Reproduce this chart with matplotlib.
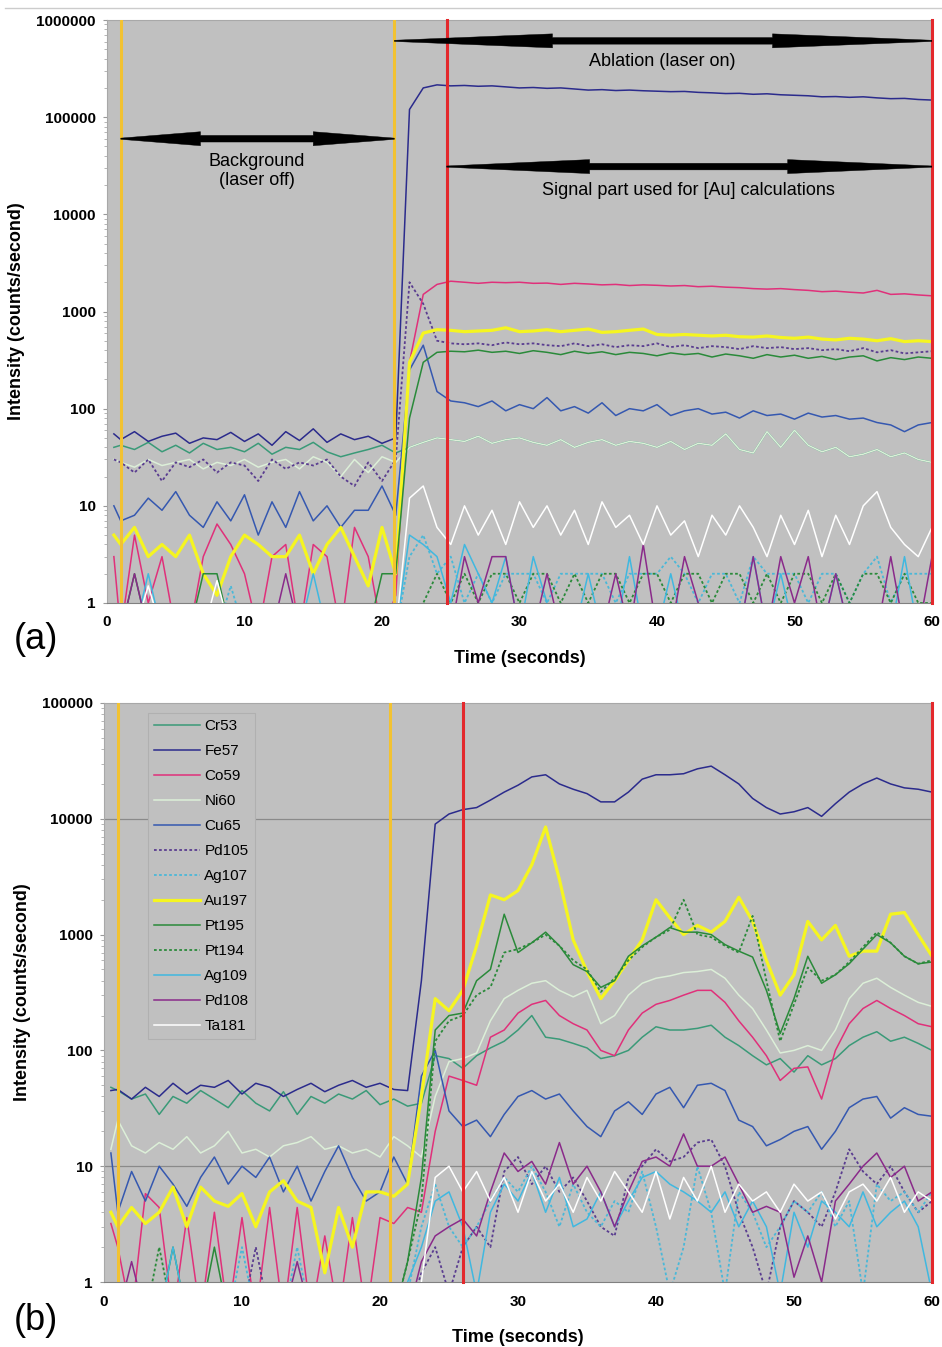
import numpy as np
import matplotlib
matplotlib.use("Agg")
import matplotlib.pyplot as plt
from matplotlib.patches import Polygon
from matplotlib.lines import Line2D
from matplotlib.ticker import FuncFormatter, NullFormatter, LogLocator
from matplotlib.transforms import blended_transform_factory

plt.rcParams.update({"font.family": "Liberation Sans", "font.size": 11})

# time base (seconds)
time = np.array([0.5] + list(range(1, 61)), dtype=float)

elements = ["Cr53", "Fe57", "Co59", "Ni60", "Cu65", "Pd105", "Ag107",
            "Au197", "Pt195", "Pt194", "Ag109", "Pd108", "Ta181"]
colors = ["#3a9a78", "#2b2b8c", "#e0307a", "#dcefd8", "#3558b0", "#5a3d90", "#4ab8d8",
          "#f5f520", "#2a8a3a", "#2a8a3a", "#40b8e0", "#8a2a8a", "#ffffff"]
dotted = (0, (1.5, 1.3))
styles = ["-", "-", "-", "-", "-", dotted, dotted, "-", "-", dotted, "-", "-", "-"]
widths = [1.1, 1.1, 1.1, 1.1, 1.1, 1.3, 1.3, 2.3, 1.1, 1.3, 1.1, 1.1, 1.1]

# ---- panel (a) data, counts/second ----
a_cr53 = [40, 42, 38, 45, 36, 42, 35, 44, 38, 40, 36,
          44, 34, 40, 38, 45, 36, 32, 35, 38, 42,
          35, 40, 45, 50, 48, 46, 52, 44, 48, 50,
          45, 42, 48, 40, 45, 48, 42, 46, 44, 40,
          46, 38, 44, 42, 55, 38, 35, 58, 40, 60,
          42, 36, 40, 32, 34, 38, 32, 35, 30, 28]
a_fe57 = [55, 48, 58, 46, 52, 56, 44, 50, 48, 57, 46,
          55, 42, 58, 47, 62, 45, 55, 48, 52, 44,
          50, 1.2e5, 2.0e5, 2.15e5, 2.1e5, 2.12e5, 2.08e5, 2.1e5, 2.05e5, 2.0e5,
          2.02e5, 1.98e5, 2.0e5, 1.95e5, 1.9e5, 1.92e5, 1.88e5, 1.9e5, 1.87e5, 1.85e5,
          1.83e5, 1.84e5, 1.8e5, 1.78e5, 1.75e5, 1.76e5, 1.72e5, 1.74e5, 1.7e5, 1.68e5,
          1.66e5, 1.62e5, 1.63e5, 1.6e5, 1.62e5, 1.58e5, 1.55e5, 1.56e5, 1.52e5, 1.5e5]
a_co59 = [3, 0.5, 5, 1, 3, 0.5, 0.5, 3, 6.5, 4, 2,
          0.5, 3, 4, 0.5, 4, 3, 0.5, 6, 3, 0.5,
          1.2, 300, 1500, 1900, 2050, 2000, 1950, 2000, 1980, 2000,
          1950, 1960, 1900, 1950, 1920, 1880, 1900, 1850, 1880, 1860,
          1830, 1850, 1800, 1820, 1780, 1760, 1720, 1700, 1720, 1680,
          1650, 1600, 1620, 1580, 1550, 1650, 1500, 1520, 1480, 1450]
a_ni60 = [30, 28, 25, 30, 26, 28, 30, 24, 28, 26, 30,
          25, 28, 30, 24, 32, 28, 20, 30, 22, 32,
          28, 40, 45, 50, 48, 46, 52, 44, 48, 50,
          45, 42, 48, 40, 45, 48, 42, 46, 44, 40,
          46, 38, 44, 42, 55, 38, 35, 58, 40, 60,
          42, 36, 40, 32, 34, 38, 32, 35, 30, 28]
a_cu65 = [10, 7, 8, 12, 9, 14, 8, 6, 11, 7, 13,
          5, 11, 6, 14, 7, 10, 6, 9, 9, 16,
          8, 250, 450, 150, 120, 115, 105, 120, 95, 110,
          100, 130, 95, 105, 90, 115, 85, 100, 95, 110,
          85, 95, 100, 88, 92, 80, 95, 85, 88, 78,
          90, 82, 85, 78, 80, 72, 68, 58, 68, 72]
a_pd105 = [30, 28, 22, 30, 18, 28, 25, 30, 22, 28, 26,
           18, 30, 24, 28, 26, 30, 20, 16, 28, 18,
           30, 2000, 1200, 500, 470, 460, 470, 450, 480, 460,
           470, 450, 440, 470, 440, 460, 430, 450, 440, 470,
           430, 450, 420, 440, 430, 410, 440, 420, 430, 410,
           420, 400, 410, 390, 420, 380, 400, 370, 380, 390]
a_ag107 = [0.5, 0.5, 0.5, 0.5, 0.5, 0.5, 0.5, 0.5, 0.5, 1.5, 0.5,
           0.5, 0.5, 0.5, 0.5, 0.5, 0.5, 0.5, 0.5, 0.5, 0.5,
           0.5, 3, 5, 2, 3, 1, 2, 1, 2, 2,
           2, 1, 2, 2, 2, 2, 1, 2, 2, 2,
           3, 2, 1, 2, 2, 1, 3, 2, 2, 2,
           1, 2, 2, 1, 2, 3, 1, 2, 2, 2]
a_au197 = [5, 4, 6, 3, 4, 3, 5, 2, 1.2, 3, 5,
           4, 3, 3, 5, 2, 4, 6, 3, 1.5, 6,
           2, 300, 600, 650, 640, 620, 630, 640, 680, 620,
           630, 650, 620, 640, 660, 610, 620, 640, 660, 580,
           570, 580, 570, 560, 570, 550, 545, 560, 540, 530,
           545, 520, 510, 530, 520, 500, 525, 490, 500, 490]
a_pt195 = [0.5, 0.5, 2, 0.5, 0.5, 0.5, 0.5, 2, 2, 0.5, 0.5,
           0.5, 0.5, 0.5, 0.5, 0.5, 0.5, 0.5, 0.5, 0.5, 2,
           2, 80, 300, 380, 390, 385, 400, 380, 390, 370,
           395, 380, 360, 390, 370, 385, 360, 380, 370, 350,
           375, 360, 370, 340, 365, 350, 330, 360, 340, 355,
           330, 345, 320, 340, 350, 310, 335, 320, 340, 330]
a_pt194 = [0.5, 0.5, 0.5, 0.5, 0.5, 0.5, 0.5, 0.5, 0.5, 0.5, 0.5,
           0.5, 0.5, 0.5, 0.5, 0.5, 0.5, 0.5, 0.5, 0.5, 0.5,
           0.5, 0.5, 1, 2, 1, 2, 1, 2, 2, 1,
           2, 2, 1, 2, 1, 2, 2, 1, 2, 2,
           1, 2, 2, 1, 2, 2, 1, 2, 1, 2,
           2, 1, 2, 1, 2, 2, 1, 2, 1, 1]
a_ag109 = [0.5, 0.5, 0.5, 2, 0.5, 0.5, 0.5, 0.5, 0.5, 0.5, 0.5,
           0.5, 0.5, 0.5, 0.5, 2, 0.5, 0.5, 0.5, 0.5, 0.5,
           0.5, 5, 4, 3, 1, 4, 2, 1, 3, 0.5,
           3, 1, 0.5, 0.5, 2, 0.5, 0.5, 3, 0.5, 0.5,
           2, 0.5, 0.5, 0.5, 0.5, 0.5, 3, 0.5, 2, 0.5,
           0.5, 0.5, 2, 0.5, 0.5, 0.5, 0.5, 3, 0.5, 0.5]
a_pd108 = [0.5, 0.5, 2, 0.5, 0.5, 0.5, 0.5, 0.5, 0.5, 0.5, 0.5,
           0.5, 0.5, 2, 0.5, 0.5, 0.5, 0.5, 0.5, 0.5, 0.5,
           0.5, 0.5, 0.5, 0.5, 0.5, 3, 1, 3, 3, 0.5,
           0.5, 2, 0.5, 0.5, 0.5, 0.5, 2, 0.5, 4, 0.5,
           0.5, 3, 1, 0.5, 0.5, 0.5, 3, 0.5, 3, 1,
           3, 0.5, 2, 0.5, 0.5, 0.5, 3, 0.5, 0.5, 3]
a_ta181 = [0.5, 0.5, 0.5, 1.5, 0.5, 0.5, 0.5, 0.5, 1.7, 0.5, 0.5,
           0.5, 0.5, 0.5, 0.5, 0.5, 0.5, 0.5, 0.5, 0.5, 0.5,
           0.5, 12, 16, 6, 4, 10, 5, 9, 4, 11,
           6, 10, 5, 9, 4, 11, 6, 8, 4, 10,
           5, 7, 3, 8, 5, 10, 6, 3, 8, 4,
           9, 3, 8, 4, 10, 14, 6, 4, 3, 6]

# ---- panel (b) data, counts/second ----
b_cr53 = [48, 45, 38, 42, 28, 40, 35, 45, 38, 32, 45,
          35, 30, 44, 28, 40, 35, 42, 38, 45, 34,
          38, 33, 35, 90, 85, 70, 90, 105, 120, 150,
          200, 130, 125, 115, 105, 85, 90, 100, 130, 160,
          150, 150, 155, 165, 130, 110, 90, 75, 85, 65,
          90, 75, 85, 110, 130, 145, 120, 130, 115, 100]
b_fe57 = [45, 46, 38, 48, 40, 52, 42, 50, 48, 55, 42,
          52, 48, 40, 46, 52, 44, 50, 55, 48, 52,
          46, 45, 400, 9000, 11000, 12000, 12500, 14500, 17000, 19500,
          23000, 24000, 20000, 18000, 16500, 14000, 14000, 17000, 22000, 24000,
          24000, 24500, 27000, 28500, 24000, 20000, 15000, 12500, 11000, 11500,
          12500, 10500, 13500, 17000, 20000, 22500, 20000, 18500, 18000, 17000]
b_co59 = [3.2, 2, 0.5, 5.8, 4.4, 0.5, 3.6, 0.5, 4, 0.5, 3.6,
          0.5, 4.4, 0.5, 4.4, 0.5, 2.5, 0.5, 3.6, 0.5, 3.6,
          3.2, 4.4, 4, 20, 60, 55, 50, 130, 150, 210,
          250, 270, 200, 170, 150, 100, 90, 150, 210, 250,
          270, 300, 330, 330, 260, 180, 130, 90, 55, 70,
          72, 38, 100, 170, 230, 270, 230, 200, 170, 160]
b_ni60 = [14, 25, 15, 13, 16, 14, 18, 13, 15, 20, 13,
          14, 12, 15, 16, 18, 14, 15, 13, 14, 12,
          18, 15, 12, 40, 80, 85, 95, 180, 280, 330,
          380, 400, 330, 290, 330, 170, 200, 300, 380, 420,
          440, 470, 480, 500, 420, 300, 230, 150, 95, 100,
          110, 100, 150, 280, 380, 420, 350, 300, 260, 240]
b_cu65 = [13, 4, 9, 5, 10, 7, 4.5, 8, 12, 7, 10,
          8, 12, 6, 10, 5, 9, 15, 8, 5, 6,
          12, 7, 60, 100, 30, 22, 25, 18, 28, 40,
          45, 38, 42, 30, 22, 18, 30, 36, 28, 42,
          48, 32, 50, 52, 45, 25, 22, 15, 17, 20,
          22, 14, 20, 32, 38, 40, 26, 32, 28, 27]
b_pd105 = [0.5, 0.5, 0.5, 0.5, 0.5, 0.5, 0.5, 0.5, 0.5, 0.5, 0.5,
           2, 0.5, 0.5, 0.5, 0.5, 0.5, 0.5, 0.5, 0.5, 0.5,
           0.5, 0.5, 1.2, 2, 0.8, 2, 3, 2, 9, 12,
           7, 10, 6, 8, 5, 3, 2.5, 8, 10, 14,
           11, 12, 16, 17, 10, 4, 2, 0.8, 3, 5,
           4, 3, 6, 14, 9, 7, 10, 6, 4, 5]
b_ag107 = [0.5, 0.5, 0.5, 0.5, 0.5, 0.5, 0.5, 0.5, 0.5, 0.5, 2,
           0.5, 0.5, 0.5, 2, 0.5, 0.5, 0.5, 0.5, 0.5, 0.5,
           0.5, 0.8, 3, 7, 3, 2, 3, 5, 8, 6,
           10, 6, 3, 7, 4, 3, 5, 4, 9, 3,
           0.8, 2, 10, 4, 0.8, 6, 4, 2, 3, 5,
           4, 6, 3, 5, 0.8, 7, 5, 6, 4, 6]
b_au197 = [4, 3, 4.4, 3.2, 4, 6.6, 3, 6.6, 5, 4.5, 5.8,
           3, 6, 7.5, 5, 4.4, 1.2, 4.4, 2, 6, 6,
           5.5, 7, 40, 280, 220, 330, 800, 2200, 2000, 2400,
           4000, 8500, 3000, 900, 480, 280, 400, 600, 900, 2000,
           1400, 1000, 1200, 1050, 1300, 2100, 1300, 600, 300, 450,
           1300, 900, 1200, 650, 720, 720, 1500, 1550, 1000, 650]
b_pt195 = [0.5, 0.5, 0.5, 0.5, 0.5, 2, 0.5, 0.5, 2, 0.5, 0.5,
           0.5, 0.5, 0.5, 0.5, 0.5, 0.5, 0.5, 0.5, 0.5, 0.5,
           0.5, 1.5, 8, 150, 200, 210, 400, 500, 1500, 700,
           850, 1050, 800, 550, 480, 350, 400, 650, 800, 950,
           1150, 1050, 1050, 1000, 820, 720, 640, 330, 140, 280,
           650, 380, 450, 560, 750, 1000, 850, 650, 560, 580]
b_pt194 = [0.5, 0.5, 0.5, 0.5, 2, 0.5, 0.5, 0.5, 0.5, 0.5, 0.5,
           0.5, 0.5, 0.5, 0.5, 0.5, 0.5, 0.5, 0.5, 0.5, 0.5,
           0.5, 1.5, 5, 120, 180, 200, 300, 350, 700, 750,
           850, 1000, 800, 600, 500, 320, 420, 600, 780, 950,
           1100, 2000, 1000, 950, 800, 700, 1450, 400, 120, 250,
           520, 400, 450, 580, 780, 1050, 850, 650, 560, 600]
b_ag109 = [0.5, 0.5, 0.5, 0.5, 0.5, 2, 0.5, 0.5, 0.5, 0.5, 0.5,
           0.5, 0.5, 0.5, 0.5, 0.5, 0.5, 0.5, 0.5, 0.5, 0.5,
           0.5, 1, 2, 5, 6, 3, 0.8, 4, 7, 5,
           9, 4, 8, 3, 3.5, 6, 3, 5, 8, 9,
           7, 6, 5, 4, 6, 3, 5, 3, 0.8, 4,
           2, 5, 4, 3, 6, 3, 4, 5, 3, 0.8]
b_pd108 = [0.5, 0.5, 1.5, 0.5, 0.5, 0.5, 0.5, 0.5, 0.5, 0.5, 0.5,
           0.5, 0.5, 0.5, 1.5, 0.5, 0.5, 0.5, 0.5, 0.5, 0.5,
           0.5, 0.5, 1.5, 2.5, 3, 3.5, 2.5, 6, 13, 9,
           11, 7, 16, 7, 10, 6, 3, 6, 11, 12,
           10, 19, 10, 10, 12, 7, 4, 4.5, 4, 1.1,
           2.5, 1, 5, 7, 10, 13, 8, 10, 5, 6]
b_ta181 = [0.5, 0.5, 0.5, 0.5, 0.5, 0.5, 0.5, 0.5, 0.5, 0.5, 0.5,
           0.5, 0.5, 0.5, 0.5, 0.5, 0.5, 0.5, 0.5, 0.5, 0.5,
           0.5, 0.5, 1, 8, 10, 6, 9, 5, 8, 4,
           9, 5, 7, 4, 8, 5, 9, 6, 4, 9,
           3.5, 8, 5, 10, 4, 7, 5, 6, 4, 7,
           5, 6, 3.5, 6, 7, 5, 8, 4, 6, 5]

series_a = [a_cr53, a_fe57, a_co59, a_ni60, a_cu65, a_pd105, a_ag107,
            a_au197, a_pt195, a_pt194, a_ag109, a_pd108, a_ta181]
series_b = [b_cr53, b_fe57, b_co59, b_ni60, b_cu65, b_pd105, b_ag107,
            b_au197, b_pt195, b_pt194, b_ag109, b_pd108, b_ta181]
for s in series_a + series_b:
    assert len(s) == len(time)

# window markers (seconds)
a_yellow = [1.0, 20.9]
a_red = [24.7, 60]
b_yellow = [1.0, 20.7]
b_red = [26.0, 60]

W, H = 942, 1347
fig = plt.figure(figsize=(W / 100, H / 100), dpi=100)
ax_a = fig.add_axes([107 / W, 1 - 603 / H, 825 / W, 583 / H])
ax_b = fig.add_axes([104 / W, 1 - 1282 / H, 828 / W, 579 / H])

def style_axes(ax, ymax):
    ax.set_facecolor("#c0c0c0")
    ax.set_xlim(0, 60)
    ax.set_yscale("log")
    ax.set_ylim(1, ymax)
    ax.set_xticks([0, 10, 20, 30, 40, 50, 60])
    ax.set_yticks([10.0 ** k for k in range(int(round(np.log10(ymax))) + 1)])
    ax.yaxis.set_major_formatter(FuncFormatter(lambda v, p: "%d" % round(v)))
    ax.yaxis.set_minor_formatter(NullFormatter())
    ax.tick_params(axis="x", length=0, pad=9, labelsize=11)
    ax.tick_params(axis="y", which="major", length=3, color="#999999", pad=5, labelsize=11)
    ax.tick_params(axis="y", which="minor", length=2, color="#aaaaaa")
    for lbl in ax.get_xticklabels() + ax.get_yticklabels():
        lbl.set_fontweight("bold")
    ax.spines["right"].set_visible(False)
    ax.spines["top"].set_color("#a8a8a8")
    ax.spines["left"].set_color("#a8a8a8")
    ax.spines["bottom"].set_color("#808080")
    ax.set_xlabel("Time (seconds)", fontsize=13, fontweight="bold", labelpad=15)
    ax.set_ylabel("Intensity (counts/second)", fontsize=13, fontweight="bold", labelpad=8)

def plot_series(ax, series):
    for name, vals, c, ls, lw in zip(elements, series, colors, styles, widths):
        ax.plot(time, vals, color=c, ls=ls, lw=lw, label=name, zorder=3)

def markers(ax, yellow, red):
    for t in yellow:
        ax.axvline(t, color="#f2c232", lw=2.2, zorder=5)
    for t in red:
        ax.axvline(t, color="#e3282c", lw=2.2, zorder=5, clip_on=False)

def double_arrow(ax, t0, t1, tl, tr, yval, ymax):
    # tapered double-headed arrow, x in data units, thickness in pixels
    trans = blended_transform_factory(ax.transData, ax.transAxes)
    hpx = ax.get_position().height * fig.get_figheight() * fig.dpi
    yc = np.log10(yval) / np.log10(ymax)
    hh, hs, ht = 7 / hpx, 3.3 / hpx, 0.6 / hpx
    pts = [(t0, yc + ht), (tl, yc + hh), (tl, yc + hs), (tr, yc + hs), (tr, yc + hh),
           (t1, yc + ht), (t1, yc - ht), (tr, yc - hh), (tr, yc - hs), (tl, yc - hs),
           (tl, yc - hh), (t0, yc - ht)]
    ax.add_patch(Polygon(pts, closed=True, transform=trans, facecolor="black",
                         edgecolor="black", lw=0.3, zorder=6))

# panel (a)
style_axes(ax_a, 1e6)
plot_series(ax_a, series_a)
markers(ax_a, a_yellow, a_red)
double_arrow(ax_a, 1.0, 20.9, 6.8, 15.0, 6.0e4, 1e6)
double_arrow(ax_a, 20.9, 60, 32.4, 48.4, 6.1e5, 1e6)
double_arrow(ax_a, 24.7, 60, 35.1, 49.5, 3.1e4, 1e6)
ax_a.text(40.4, 3.7e5, "Ablation (laser on)", ha="center", va="center", fontsize=13, zorder=7)
ax_a.text(42.3, 1.77e4, "Signal part used for [Au] calculations", ha="center", va="center",
          fontsize=13, zorder=7)
ax_a.text(10.9, 2.8e4, "Background\n(laser off)", ha="center", va="center", fontsize=13,
          linespacing=1.2, zorder=7)

# panel (b)
style_axes(ax_b, 1e5)
for g in [10, 10000]:
    ax_b.axhline(g, color="#8a8a8a", lw=0.9, zorder=1)
plot_series(ax_b, series_b)
markers(ax_b, b_yellow, b_red)
leg = ax_b.legend(loc="upper left", bbox_to_anchor=(0.053, 0.983), borderaxespad=0,
                  fontsize=11, handlelength=3.0, handletextpad=0.3, labelspacing=0.72,
                  fancybox=False, framealpha=1, facecolor="#c0c0c0", edgecolor="#b0b0b0",
                  borderpad=0.4)
leg.set_zorder(8)
leg.get_frame().set_linewidth(0.8)

fig.text(14 / W, 1 - 640 / H, "(a)", fontsize=26, va="center", ha="left")
fig.text(14 / W, 1 - 1320 / H, "(b)", fontsize=26, va="center", ha="left")
fig.add_artist(Line2D([5 / W, 1], [1 - 8 / H, 1 - 8 / H], color="#cccccc", lw=1))

fig.savefig("out.png", dpi=100, facecolor="white")
